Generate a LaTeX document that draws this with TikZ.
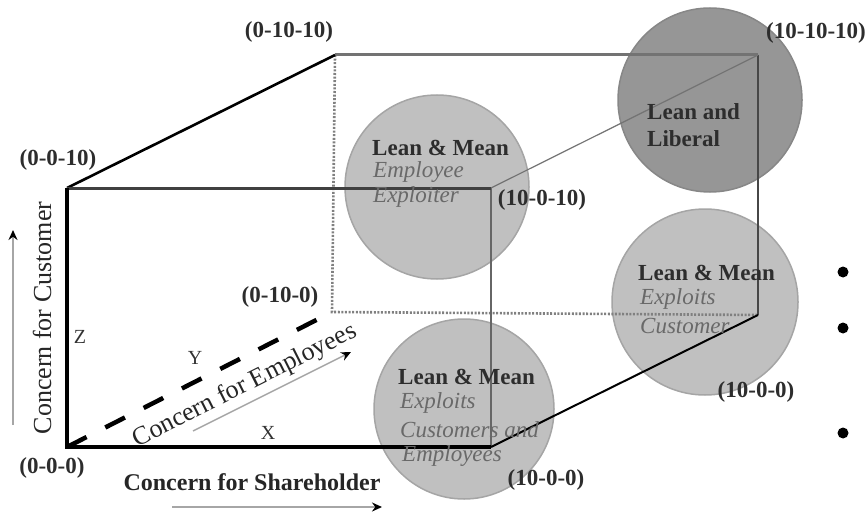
\documentclass[tikz,border=0pt]{standalone}
\usepackage{fontspec}
\setmainfont{Liberation Serif}
\usetikzlibrary{arrows.meta}
\definecolor{bubfill}{RGB}{192,192,192}
\definecolor{bubdark}{RGB}{150,150,150}
\definecolor{bubedge}{RGB}{165,165,165}
\definecolor{itgray}{RGB}{105,105,105}
\definecolor{boldtxt}{RGB}{45,45,45}
\begin{document}
\begin{tikzpicture}[x=1pt,y=-1pt,
  bubble/.style={circle,fill=bubfill,draw=bubedge,line width=1.5pt,inner sep=0pt},
  coordlbl/.style={font=\fontsize{23}{25}\selectfont\bfseries,text=boldtxt,inner sep=0pt},
  headtxt/.style={font=\fontsize{23}{25}\selectfont\bfseries,text=boldtxt,inner sep=0pt,anchor=west},
  subtxt/.style={font=\fontsize{23}{25}\selectfont\itshape,text=itgray,inner sep=0pt,anchor=west},
  axislbl/.style={font=\fontsize{26}{28}\selectfont,text=black!85,inner sep=0pt},
  axisletter/.style={font=\fontsize{20}{22}\selectfont,text=black!80,inner sep=0pt},
  dirarrow/.style={draw=black!35,line width=2.5pt,-{Stealth[length=10pt,width=9pt,black]}},
  bulletdot/.style={circle,fill=black,inner sep=0pt,minimum size=11pt}
]
\useasboundingbox (0,0) rectangle (866,513);
% bubbles
\node[bubble,minimum size=184pt] (c1) at (437,187) {};
\node[bubble,minimum size=184pt,fill=bubdark,draw=bubdark!90!black] (c2) at (710,100) {};
\node[bubble,minimum size=186pt] (c3) at (705,302) {};
\node[bubble,minimum size=180pt] (c4) at (464,409) {};
% corners
\coordinate (o) at (67,447);
\coordinate (z) at (67,188);
\coordinate (xz) at (491,188);
\coordinate (x) at (491,447);
\coordinate (yz) at (335,55);
\coordinate (xyz) at (758,55);
\coordinate (xy) at (758,315);
\coordinate (y) at (332,312);
% cube edges
\draw[black!50,line width=2.6pt,dash pattern=on 2pt off 1.6pt] (yz) -- (y) -- (xy);
\draw[black!55,line width=3pt] (yz) -- (xyz);
\draw[black!60,line width=2.6pt] (xz) -- (x);
\draw[black!72,line width=2.8pt] (xyz) -- (xy);
\draw[black!55,line width=1.2pt] (xz) -- (xyz);
\draw[black,line width=2pt] (x) -- (xy);
\draw[black,line width=2.6pt] (z) -- (yz);
\draw[black!75,line width=3pt] (z) -- (xz);
\draw[black,line width=4pt] (z) -- (o) -- (x);
% dashed Y axis
\draw[black,line width=4.5pt,dash pattern=on 22pt off 21pt] (o) -- (y);
% coordinate labels
\node[coordlbl] (l1) at (289,32) {(0-10-10)};
\node[coordlbl] (l2) at (816,33) {(10-10-10)};
\node[coordlbl] (l3) at (58,160) {(0-0-10)};
\node[coordlbl] (l4) at (542,200) {(10-0-10)};
\node[coordlbl] (l5) at (280,297) {(0-10-0)};
\node[coordlbl] (l6) at (756,392) {(10-0-0)};
\node[coordlbl] (l7) at (52,468) {(0-0-0)};
\node[coordlbl] (l8) at (546,480) {(10-0-0)};
% bubble texts
\node[headtxt] (t1a) at (372,148) {Lean \& Mean};
\node[subtxt] (t1b) at (373,172) {Employee};
\node[subtxt] (t1c) at (373,197) {Exploiter};
\node[headtxt] (t2a) at (647,112) {Lean and};
\node[headtxt] (t2b) at (647,139) {Liberal};
\node[headtxt] (t3a) at (638,273) {Lean \& Mean};
\node[subtxt] (t3b) at (640,299) {Exploits};
\node[subtxt] (t3c) at (640,326) {Customer};
\node[headtxt] (t4a) at (398,377) {Lean \& Mean};
\node[subtxt] (t4b) at (400,403) {Exploits};
\node[subtxt] (t4c) at (400,430) {Customers and};
\node[subtxt] (t4d) at (402,456) {Employees};
% axis letters
\node[axisletter] (lz) at (80,337) {Z};
\node[axisletter] (ly) at (195,358) {Y};
\node[axisletter] (lx) at (268,433) {X};
% axis titles
\node[axislbl,rotate=90] (cc) at (42,318) {Concern for Customer};
\node[axislbl,font=\fontsize{24}{26}\selectfont\bfseries] (cs) at (252,482) {Concern for Shareholder};
\node[axislbl,rotate=26.7] (ce) at (245,386) {Concern for Employees};
% direction arrows
\coordinate (a1s) at (13,425); \coordinate (a1e) at (13,230);
\coordinate (a2s) at (172,507); \coordinate (a2e) at (382,507);
\coordinate (a3s) at (193,431); \coordinate (a3e) at (351,352);
\draw[dirarrow] (a1s) -- (a1e);
\draw[dirarrow] (a2s) -- (a2e);
\draw[dirarrow,line width=1.4pt] (a3s) -- (a3e);
% bullets
\node[bulletdot] (b1) at (843,272) {};
\node[bulletdot] (b2) at (843,328) {};
\node[bulletdot] (b3) at (843,433) {};
\end{tikzpicture}
\end{document}
